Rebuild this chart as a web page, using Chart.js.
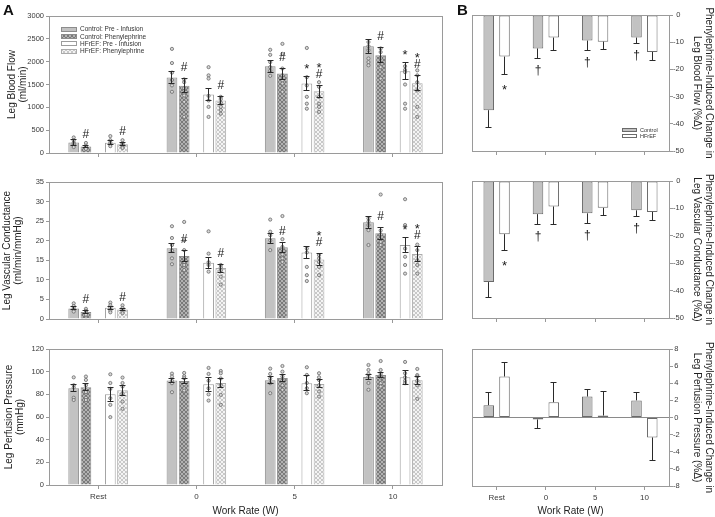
<!DOCTYPE html>
<html>
<head>
<meta charset="utf-8">
<script src="https://cdn.jsdelivr.net/npm/chart.js@4.4.1/dist/chart.umd.min.js"></script>
<style>
  body { margin: 0; background: #fff; }
  #wrap { position: relative; width: 715px; height: 517px; overflow: hidden; }
  #wrap canvas { position: absolute; }
  .tag { position: absolute; font: bold 15px "Liberation Sans", Arial, sans-serif; color: #111; }
</style>
</head>
<body>
<div id="wrap">
  <canvas id="a1" width="450" height="165" style="left:0;top:0"></canvas>
  <canvas id="a2" width="450" height="165" style="left:0;top:165px"></canvas>
  <canvas id="a3" width="450" height="187" style="left:0;top:330px"></canvas>
  <canvas id="b1" width="255" height="165" style="left:460px;top:0"></canvas>
  <canvas id="b2" width="255" height="165" style="left:460px;top:165px"></canvas>
  <canvas id="b3" width="255" height="187" style="left:460px;top:330px"></canvas>
  <div class="tag" style="left:3px;top:1px">A</div>
  <div class="tag" style="left:457px;top:1px">B</div>
</div>
<script>
const F = '"Liberation Sans", Arial, Helvetica, sans-serif';

const workRates = ['Rest', '0', '5', '10'];
const groupNames = ['Control: Pre - Infusion', 'Control: Phenylephrine', 'HFrEF: Pre - Infusion', 'HFrEF: Phenylephrine'];
const changeNames = ['Control', 'HFrEF'];

// A - leg blood flow (ml/min), rows = groups, cols = work rate
const flowMean = [
  [230, 1655, 1900, 2335],
  [145, 1475, 1740, 2140],
  [225, 1280, 1520, 1790],
  [190, 1150, 1350, 1525],
];
const flowSem = [
  [55, 130, 130, 155],
  [30, 155, 120, 160],
  [45, 130, 145, 190],
  [30, 95, 125, 165],
];
const flowPts = [
  [[340, 280, 230, 200, 170, 130], [2280, 1970, 1760, 1600, 1480, 1340], [2260, 2150, 1990, 1880, 1800, 1690], [2430, 2340, 2250, 2070, 1990, 1920]],
  [[220, 160, 130, 100, 90], [1610, 1550, 1420, 1260, 1120, 790], [2390, 2170, 1850, 1700, 1590, 1520, 1340], [2290, 2210, 2080, 1880, 1630]],
  [[370, 280, 230, 190, 150], [1880, 1700, 1630, 1250, 1150, 1010, 790], [2300, 1660, 1480, 1230, 1080, 970], [1900, 1820, 1770, 1500, 1080, 970]],
  [[280, 210, 180, 160, 130, 110], [1230, 1180, 1100, 1010, 940, 860], [1550, 1450, 1230, 1080, 1010, 900], [1810, 1700, 1550, 1370, 1010, 790]],
];
const flowMarks = [
  ['', '', '', ''],
  ['#', '#', '#', '#'],
  ['', '', '*', '*'],
  ['#', '#', '*#', '*#'],
];

// A - leg vascular conductance (ml/min/mmHg)
const condMean = [
  [2.7, 18.1, 20.6, 24.7],
  [1.8, 16.1, 18.35, 21.9],
  [2.9, 14.4, 17.0, 18.9],
  [2.4, 13.0, 15.2, 16.6],
];
const condSem = [
  [0.4, 1.1, 1.2, 1.6],
  [0.3, 1.4, 1.3, 1.6],
  [0.4, 1.4, 1.6, 2.0],
  [0.3, 1.0, 1.5, 2.0],
];
const condPts = [
  [[4.0, 3.3, 2.8, 2.3, 1.9], [23.7, 20.7, 18.9, 17.5, 15.5, 14.0], [25.4, 22.3, 21.4, 20.1, 17.6], [25.7, 24.9, 24.0, 22.7, 18.9]],
  [[2.6, 2.1, 1.7, 1.4, 1.1], [24.8, 20.1, 17.6, 14.6, 13.8, 12.5], [26.3, 20.4, 18.4, 16.5, 15.5, 14.6], [31.8, 22.6, 21.6, 19.7, 18.9]],
  [[4.2, 3.5, 2.9, 2.1, 1.7], [22.4, 16.7, 14.5, 13.8, 12.1], [18.0, 17.0, 13.3, 11.2, 9.7], [30.6, 24.0, 18.0, 15.9, 13.8, 11.6]],
  [[3.5, 2.8, 2.3, 1.9, 1.5], [13.8, 13.2, 12.5, 10.8, 8.8], [16.3, 15.5, 14.6, 13.3, 11.2], [19.0, 17.6, 15.0, 13.8, 11.6]],
];
const condMarks = [
  ['', '', '', ''],
  ['#', '#', '#', '#'],
  ['', '', '', '*'],
  ['#', '#', '*#', '*#'],
];

// A - leg perfusion pressure (mmHg)
const pressMean = [
  [85.4, 92.1, 92.4, 95.4],
  [86.3, 91.8, 94.5, 97.1],
  [80.1, 88.9, 89.8, 95.1],
  [83.6, 90.1, 89.2, 92.4],
];
const pressSem = [
  [3, 2, 3, 2.5],
  [3, 2.5, 3, 2.5],
  [6, 6, 6.5, 6],
  [4.5, 4, 3.5, 3.5],
];
const pressPts = [
  [[95, 88, 86, 77, 75], [98.3, 95.7, 92, 89.8, 81.9], [102.7, 98, 94, 89.8, 81], [105.9, 101.5, 98, 95.7, 90, 84]],
  [[95.7, 92.7, 88, 82, 77, 75], [98.9, 96, 94.2, 89, 85.4, 83.3], [105, 100, 95.7, 92, 88, 84], [109.4, 101.5, 98, 95, 89.8, 86.9]],
  [[97.7, 90, 84.8, 76.6, 70.7, 59.9], [103.3, 98, 92, 85.4, 80, 74.5], [103.9, 97.1, 90, 85.4, 81], [108.6, 98.6, 95, 92, 89.8]],
  [[94.8, 90, 86.9, 81, 73.6, 67.2], [100.6, 98.6, 94, 88, 79.5, 70.7], [98.6, 95, 92.7, 88, 82.5, 78], [102.4, 97, 95.7, 92, 88, 76]],
];

// B - phenylephrine induced change (%)
const bfChange = [[-35.0, -12.3, -9.4, -8.3], [-15.3, -8.3, -9.8, -13.6]];
const bfChangeSem = [[6.4, 3.8, 3.8, 2.2], [6.7, 4.9, 2.9, 3.0]];
const vcChange = [[-36.9, -12.1, -11.8, -10.7], [-19.4, -9.3, -9.8, -11.3]];
const vcChangeSem = [[5.8, 3.7, 3.6, 2.2], [5.8, 6.5, 2.8, 3.1]];
const ppChange = [[1.44, -0.23, 2.45, 2.0], [4.79, 1.79, 0.23, -2.33]];
const ppChangeSem = [[1.5, 1.05, 0.8, 0.95], [1.6, 2.3, 2.8, 2.75]];
const changeMarks = [['', '\u2020', '\u2020', '\u2020'], ['*', '', '', '']];

const al = (p) => Math.round(p - 0.5) + 0.5;

function hatch(ctx, bg, fg) {
  const c = document.createElement('canvas');
  c.width = 4; c.height = 4;
  const g = c.getContext('2d');
  g.fillStyle = bg; g.fillRect(0, 0, 4, 4);
  g.strokeStyle = fg; g.lineWidth = 1;
  g.beginPath();
  g.moveTo(0, 0); g.lineTo(4, 4);
  g.moveTo(4, 0); g.lineTo(0, 4);
  g.stroke();
  return ctx.createPattern(c, 'repeat');
}

function drawMark(ctx, ch, x, y) {
  ctx.fillStyle = '#1a1a1a';
  ctx.textAlign = 'center';
  ctx.textBaseline = 'middle';
  if (ch === '*') {
    ctx.font = `13px ${F}`;
    ctx.fillText(ch, x, y + 3.5);
  } else {
    ctx.font = `12px ${F}`;
    ctx.fillText(ch, x, y);
  }
}

// error bars, single points, significance marks, frame and legend
const extras = {
  id: 'extras',
  afterDatasetsDraw(chart, args, o) {
    const { ctx, chartArea: a } = chart;
    const y = chart.scales.y;
    ctx.save();
    if (o.zero) {
      const z = al(y.getPixelForValue(0));
      ctx.strokeStyle = '#8a8a8a'; ctx.lineWidth = 1;
      ctx.beginPath(); ctx.moveTo(a.left, z); ctx.lineTo(a.right, z); ctx.stroke();
    }
    chart.data.datasets.forEach((ds, i) => {
      if (!ds.sem) return;
      chart.getDatasetMeta(i).data.forEach((bar, j) => {
        const m = ds.data[j], s = ds.sem[j];
        const x = al(bar.x);
        if (ds.pts) {
          ctx.lineWidth = 0.8; ctx.strokeStyle = '#6a6a6a'; ctx.fillStyle = '#d8d8d8';
          ds.pts[j].forEach((v) => {
            ctx.beginPath();
            ctx.arc(bar.x, y.getPixelForValue(v), 1.6, 0, Math.PI * 2);
            ctx.fill(); ctx.stroke();
          });
        }
        ctx.strokeStyle = '#2a2a2a'; ctx.lineWidth = 1;
        const cap = o.cap / 2;
        let endPx;
        if (o.both) {
          const t = al(y.getPixelForValue(m + s)), b = al(y.getPixelForValue(m - s));
          ctx.beginPath();
          ctx.moveTo(x, t); ctx.lineTo(x, b);
          ctx.moveTo(x - cap, t); ctx.lineTo(x + cap, t);
          ctx.moveTo(x - cap, b); ctx.lineTo(x + cap, b);
          ctx.stroke();
          endPx = t;
        } else {
          const e = al(y.getPixelForValue(m < 0 ? m - s : m + s));
          const b = y.getPixelForValue(m);
          ctx.beginPath();
          ctx.moveTo(x, b); ctx.lineTo(x, e);
          ctx.moveTo(x - cap, e); ctx.lineTo(x + cap, e);
          ctx.stroke();
          endPx = e;
        }
        if (ds.marks && ds.marks[j]) {
          const chars = [...ds.marks[j]];
          const dir = (!o.both && m < 0) ? 1 : -1;
          chars.forEach((c, k) => {
            const idx = dir < 0 ? chars.length - 1 - k : k;
            drawMark(ctx, c, bar.x, endPx + dir * (o.gap + idx * 10));
          });
        }
      });
    });
    ctx.restore();
  },
  afterDraw(chart, args, o) {
    const { ctx, chartArea: a } = chart;
    ctx.save();
    ctx.strokeStyle = '#9a9a9a'; ctx.lineWidth = 1;
    ctx.strokeRect(al(a.left), al(a.top), al(a.right) - al(a.left), al(a.bottom) - al(a.top));
    if (o.legend) {
      const L = o.legend;
      const items = chart.data.datasets.filter((d) => d.sem);
      items.forEach((ds, k) => {
        const yy = L.y + k * L.dy;
        ctx.fillStyle = ds.backgroundColor;
        ctx.fillRect(L.x, Math.round(yy - L.h / 2), L.w, L.h);
        ctx.strokeStyle = ds.borderColor;
        ctx.strokeRect(L.x + 0.5, Math.round(yy - L.h / 2) + 0.5, L.w - 1, L.h - 1);
        ctx.fillStyle = '#333';
        ctx.font = `${L.size}px ${F}`;
        ctx.textAlign = 'left';
        ctx.textBaseline = 'middle';
        ctx.fillText(ds.label, L.x + L.w + 3, yy + 0.5);
      });
    }
    ctx.restore();
  },
};

function yScale(pos, min, max, step, title, tpad, width) {
  return {
    position: pos, min, max,
    ticks: {
      stepSize: step, color: '#3a3a3a', font: { size: 7.5, family: F },
      padding: pos === 'left' ? 2 : 0,
      crossAlign: pos === 'right' ? 'center' : 'near',
      callback: (v) => String(v), // no thousands separator
    },
    grid: { drawOnChartArea: false, tickLength: pos === 'left' ? 3 : 4, color: '#999' },
    border: { color: '#999' },
    title: {
      display: true, text: title, color: '#1e1e1e',
      font: { size: 10, family: F, lineHeight: 1.15 },
      padding: { top: tpad, bottom: 0 },
    },
    afterFit: (s) => { s.width = width; },
  };
}

function xScale(height, labels) {
  return {
    type: 'category', offset: true,
    ticks: { display: labels, color: '#3a3a3a', font: { size: 8, family: F }, padding: 3 },
    grid: { offset: false, drawOnChartArea: false, tickLength: 4, color: '#999' },
    border: { color: '#999' },
    title: {
      display: labels, text: 'Work Rate (W)', color: '#1e1e1e',
      font: { size: 10, family: F, lineHeight: 1.2 },
      padding: { top: 0, bottom: 0 },
    },
    afterFit: (s) => { s.height = height; },
  };
}

function panelA(id, o) {
  const ctx = document.getElementById(id).getContext('2d');
  const look = [
    { bg: '#c2c2c2', bd: '#8c8c8c' },
    { bg: hatch(ctx, '#b2b2b2', '#7a7a7a'), bd: '#8c8c8c' },
    { bg: '#ffffff', bd: '#9c9c9c' },
    { bg: hatch(ctx, '#f4f4f4', '#c8c8c8'), bd: '#ababab' },
  ];
  const datasets = o.mean.map((m, i) => ({
    label: groupNames[i], data: m, sem: o.sem[i], pts: o.pts[i],
    marks: o.marks ? o.marks[i] : null,
    backgroundColor: look[i].bg, borderColor: look[i].bd, borderWidth: 1,
  }));
  // empty slot between control and HFrEF pairs
  datasets.splice(2, 0, { label: '', data: [null, null, null, null] });
  return new Chart(ctx, {
    type: 'bar',
    data: { labels: workRates, datasets },
    plugins: [extras],
    options: {
      responsive: false, animation: false, events: [],
      layout: { padding: { top: o.top, right: 8, bottom: 0, left: 0 } },
      datasets: { bar: { categoryPercentage: 0.621, barPercentage: 0.88 } },
      plugins: {
        legend: { display: false }, tooltip: { enabled: false },
        extras: { both: true, cap: 6, gap: 11, legend: o.legend },
      },
      scales: {
        x: xScale(o.xh, !!o.labels),
        y: yScale('left', o.min, o.max, o.step, o.title, o.tpad, 49),
      },
    },
  });
}

function panelB(id, o) {
  const ctx = document.getElementById(id).getContext('2d');
  const look = [{ bg: '#c2c2c2', bd: '#6a6a6a' }, { bg: '#ffffff', bd: '#6a6a6a' }];
  const datasets = o.mean.map((m, i) => ({
    label: changeNames[i], data: m, sem: o.sem[i], marks: o.marks ? o.marks[i] : null,
    backgroundColor: look[i].bg, borderColor: look[i].bd, borderWidth: 1,
  }));
  return new Chart(ctx, {
    type: 'bar',
    data: { labels: workRates, datasets },
    plugins: [extras],
    options: {
      responsive: false, animation: false, events: [],
      layout: { padding: { top: o.top, right: 0, bottom: 0, left: 12 } },
      datasets: { bar: { categoryPercentage: 0.64, barPercentage: 0.67, borderSkipped: false } },
      plugins: {
        legend: { display: false }, tooltip: { enabled: false },
        extras: { both: false, cap: 6, gap: 12, zero: o.zero, legend: o.legend },
      },
      scales: {
        x: xScale(o.xh, !!o.labels),
        y: yScale('right', o.min, o.max, o.step, o.title, 1, 46),
      },
    },
  });
}

panelA('a1', {
  mean: flowMean, sem: flowSem, pts: flowPts, marks: flowMarks,
  min: 0, max: 3000, step: 500, title: ['Leg Blood Flow', '(ml/min)'], tpad: 6,
  top: 16, xh: 12,
  legend: { x: 61, y: 29, dy: 7.4, w: 16, h: 5, size: 6.5 },
});
panelA('a2', {
  mean: condMean, sem: condSem, pts: condPts, marks: condMarks,
  min: 0, max: 35, step: 5, title: ['Leg Vascular Conductance', '(ml/min/mmHg)'], tpad: 1,
  top: 17, xh: 11,
});
panelA('a3', {
  mean: pressMean, sem: pressSem, pts: pressPts,
  min: 0, max: 120, step: 20, title: ['Leg Perfusion Pressure', '(mmHg)'], tpad: 3,
  top: 19, xh: 32, labels: true,
});
panelB('b1', {
  mean: bfChange, sem: bfChangeSem, marks: changeMarks,
  min: -50, max: 0, step: 10, title: ['Phenylephrine-Induced Change in', 'Leg Blood Flow (%\u0394)'],
  top: 15, xh: 14,
  legend: { x: 162, y: 129.5, dy: 6.5, w: 15, h: 4, size: 5.5 },
});
panelB('b2', {
  mean: vcChange, sem: vcChangeSem, marks: changeMarks,
  min: -50, max: 0, step: 10, title: ['Phenylephrine-Induced Change in', 'Leg Vascular Conductance (%\u0394)'],
  top: 16, xh: 12,
});
panelB('b3', {
  mean: ppChange, sem: ppChangeSem, zero: true,
  min: -8, max: 8, step: 2, title: ['Phenylephrine-Induced Change in', 'Leg Perfusion Pressure (%\u0394)'],
  top: 19, xh: 31, labels: true,
});
</script>
</body>
</html>
